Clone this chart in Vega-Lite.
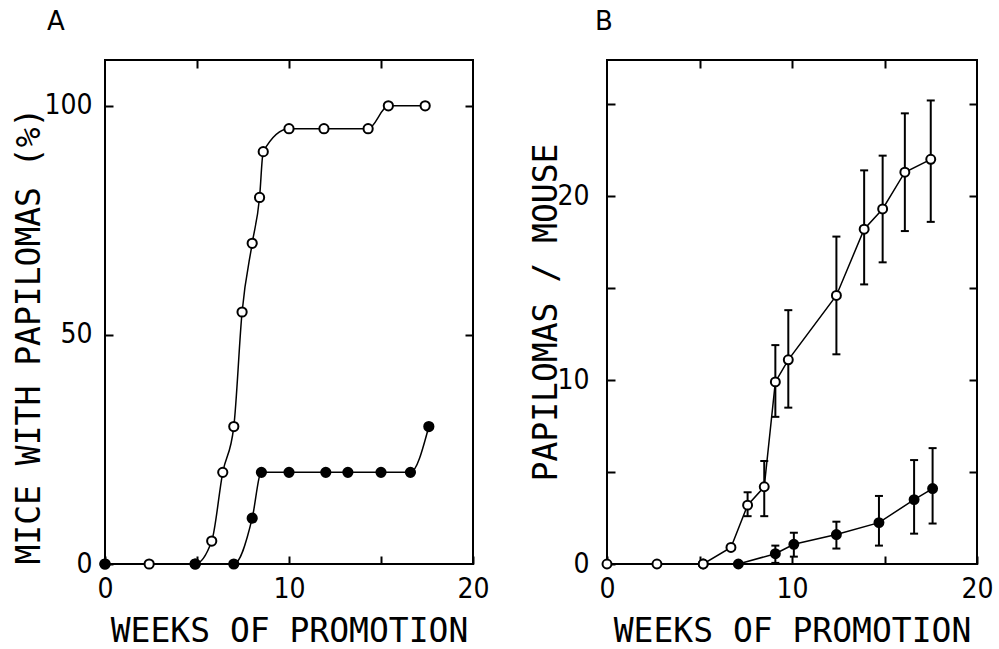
{
  "$schema": "https://vega.github.io/schema/vega-lite/v6.json",
  "background": "white",
  "padding": {"left": 12, "top": 8, "right": 5, "bottom": 0},
  "bounds": "flush",
  "spacing": 134,
  "config": {
    "view": {"stroke": "black", "strokeWidth": 2},
    "axis": {
      "domain": false, "grid": false,
      "ticks": true, "tickSize": -8, "tickWidth": 2, "tickColor": "black",
      "labelFont": "Liberation Sans Narrow, DejaVu Sans Condensed, Liberation Sans",
      "labelFontSize": 28, "labelColor": "black", "labelPadding": 21,
      "labelFlush": false, "labelOverlap": false,
      "titleFont": "DejaVu Sans Mono", "titleFontSize": 33, "titleFontWeight": "normal", "titleColor": "black"
    },
    "title": {"font": "DejaVu Sans", "fontSize": 26, "fontWeight": "normal", "color": "black", "anchor": "start", "frame": "group"}
  },
  "datasets": {
    "miceA": [
      {"series": "open", "week": 0, "pct": 0},
      {"series": "open", "week": 2.4, "pct": 0},
      {"series": "open", "week": 4.9, "pct": 0},
      {"series": "open", "week": 5.8, "pct": 5},
      {"series": "open", "week": 6.4, "pct": 20},
      {"series": "open", "week": 7.0, "pct": 30},
      {"series": "open", "week": 7.45, "pct": 55},
      {"series": "open", "week": 8.0, "pct": 70},
      {"series": "open", "week": 8.4, "pct": 80},
      {"series": "open", "week": 8.6, "pct": 90},
      {"series": "open", "week": 10.0, "pct": 95},
      {"series": "open", "week": 11.9, "pct": 95},
      {"series": "open", "week": 14.3, "pct": 95},
      {"series": "open", "week": 15.4, "pct": 100},
      {"series": "open", "week": 17.4, "pct": 100},
      {"series": "filled", "week": 0, "pct": 0},
      {"series": "filled", "week": 4.9, "pct": 0},
      {"series": "filled", "week": 7.0, "pct": 0},
      {"series": "filled", "week": 8.0, "pct": 10},
      {"series": "filled", "week": 8.5, "pct": 20},
      {"series": "filled", "week": 10.0, "pct": 20},
      {"series": "filled", "week": 12.0, "pct": 20},
      {"series": "filled", "week": 13.2, "pct": 20},
      {"series": "filled", "week": 15.0, "pct": 20},
      {"series": "filled", "week": 16.6, "pct": 20},
      {"series": "filled", "week": 17.6, "pct": 30}
    ],
    "tumB": [
      {"series": "filled", "week": 5.2, "n": 0},
      {"series": "filled", "week": 7.1, "n": 0},
      {"series": "filled", "week": 9.1, "n": 0.56, "lo": 0.06, "hi": 1.0},
      {"series": "filled", "week": 10.1, "n": 1.07, "lo": 0.4, "hi": 1.7},
      {"series": "filled", "week": 12.4, "n": 1.6, "lo": 0.84, "hi": 2.3},
      {"series": "filled", "week": 14.7, "n": 2.25, "lo": 1.0, "hi": 3.7},
      {"series": "filled", "week": 16.6, "n": 3.5, "lo": 1.65, "hi": 5.65},
      {"series": "filled", "week": 17.6, "n": 4.1, "lo": 2.2, "hi": 6.3},
      {"series": "open", "week": 0, "n": 0},
      {"series": "open", "week": 2.7, "n": 0},
      {"series": "open", "week": 5.2, "n": 0},
      {"series": "open", "week": 6.7, "n": 0.9},
      {"series": "open", "week": 7.6, "n": 3.2, "lo": 2.6, "hi": 3.9},
      {"series": "open", "week": 8.5, "n": 4.2, "lo": 2.6, "hi": 5.6},
      {"series": "open", "week": 9.1, "n": 9.9, "lo": 8.0, "hi": 11.9},
      {"series": "open", "week": 9.8, "n": 11.1, "lo": 8.5, "hi": 13.8},
      {"series": "open", "week": 12.4, "n": 14.6, "lo": 11.4, "hi": 17.8},
      {"series": "open", "week": 13.9, "n": 18.2, "lo": 15.2, "hi": 21.4},
      {"series": "open", "week": 14.9, "n": 19.3, "lo": 16.4, "hi": 22.2},
      {"series": "open", "week": 16.1, "n": 21.3, "lo": 18.1, "hi": 24.5},
      {"series": "open", "week": 17.5, "n": 22.0, "lo": 18.6, "hi": 25.2}
    ]
  },
  "hconcat": [
    {
      "title": {"text": "A", "dx": -58, "offset": 24},
      "width": 368,
      "height": 504,
      "data": {"name": "miceA"},
      "layer": [
        {
          "mark": {"type": "line", "interpolate": "monotone", "color": "black", "strokeWidth": 1.5},
          "encoding": {
            "x": {"field": "week", "type": "quantitative", "scale": {"domain": [0, 20], "nice": false},
                  "axis": {"values": [0, 5, 10, 15, 20], "labelExpr": "datum.value % 10 === 0 ? datum.label : ''", "title": "WEEKS OF PROMOTION", "labelPadding": 19, "titlePadding": 12}},
            "y": {"field": "pct", "type": "quantitative", "scale": {"domain": [0, 110], "nice": false},
                  "axis": {"values": [0, 50, 100], "title": "MICE WITH PAPILOMAS (%)", "titleAnchor": "start", "labelPadding": 21, "titlePadding": -3}},
            "detail": {"field": "series"}
          }
        },
        {
          "mark": {"type": "point", "shape": "circle", "filled": true, "size": 85, "stroke": "black", "strokeWidth": 2, "opacity": 1},
          "encoding": {
            "x": {"field": "week", "type": "quantitative", "axis": {"orient": "top", "values": [5, 10, 15], "labels": false, "title": null}},
            "y": {"field": "pct", "type": "quantitative", "axis": {"orient": "right", "values": [50, 100], "labels": false, "title": null}},
            "fill": {"field": "series", "type": "nominal", "scale": {"domain": ["open", "filled"], "range": ["white", "black"]}, "legend": null}
          }
        }
      ],
      "resolve": {"axis": {"x": "independent", "y": "independent"}}
    },
    {
      "title": {"text": "B", "dx": -12, "offset": 24},
      "width": 370,
      "height": 504,
      "data": {"name": "tumB"},
      "layer": [
        {
          "mark": {"type": "rule", "color": "black", "strokeWidth": 2},
          "encoding": {
            "x": {"field": "week", "type": "quantitative", "scale": {"domain": [0, 20], "nice": false},
                  "axis": {"values": [0, 5, 10, 15, 20], "labelExpr": "datum.value % 10 === 0 ? datum.label : ''", "title": "WEEKS OF PROMOTION", "labelPadding": 19, "titlePadding": 12}},
            "y": {"field": "lo", "type": "quantitative", "scale": {"domain": [0, 27.4], "nice": false},
                  "axis": {"values": [0, 5, 10, 15, 20, 25], "labelExpr": "datum.value % 10 === 0 ? datum.label : ''", "title": "PAPILOMAS / MOUSE", "labelPadding": 26, "titlePadding": -7}},
            "y2": {"field": "hi"}
          }
        },
        {
          "mark": {"type": "tick", "orient": "horizontal", "color": "black", "size": 8, "thickness": 2, "opacity": 1},
          "encoding": {
            "x": {"field": "week", "type": "quantitative", "axis": null},
            "y": {"field": "hi", "type": "quantitative", "axis": null}
          }
        },
        {
          "mark": {"type": "tick", "orient": "horizontal", "color": "black", "size": 8, "thickness": 2, "opacity": 1},
          "encoding": {
            "x": {"field": "week", "type": "quantitative", "axis": null},
            "y": {"field": "lo", "type": "quantitative", "axis": null}
          }
        },
        {
          "mark": {"type": "line", "color": "black", "strokeWidth": 1.5},
          "encoding": {
            "x": {"field": "week", "type": "quantitative", "axis": {"orient": "top", "values": [5, 10, 15], "labels": false, "title": null}},
            "y": {"field": "n", "type": "quantitative", "axis": {"orient": "right", "values": [5, 10, 15, 20, 25], "labels": false, "title": null}},
            "detail": {"field": "series"}
          }
        },
        {
          "mark": {"type": "point", "shape": "circle", "filled": true, "size": 80, "stroke": "black", "strokeWidth": 2, "opacity": 1},
          "encoding": {
            "x": {"field": "week", "type": "quantitative", "axis": null},
            "y": {"field": "n", "type": "quantitative", "axis": null},
            "fill": {"field": "series", "type": "nominal", "scale": {"domain": ["open", "filled"], "range": ["white", "black"]}, "legend": null}
          }
        }
      ],
      "resolve": {"axis": {"x": "independent", "y": "independent"}}
    }
  ]
}
